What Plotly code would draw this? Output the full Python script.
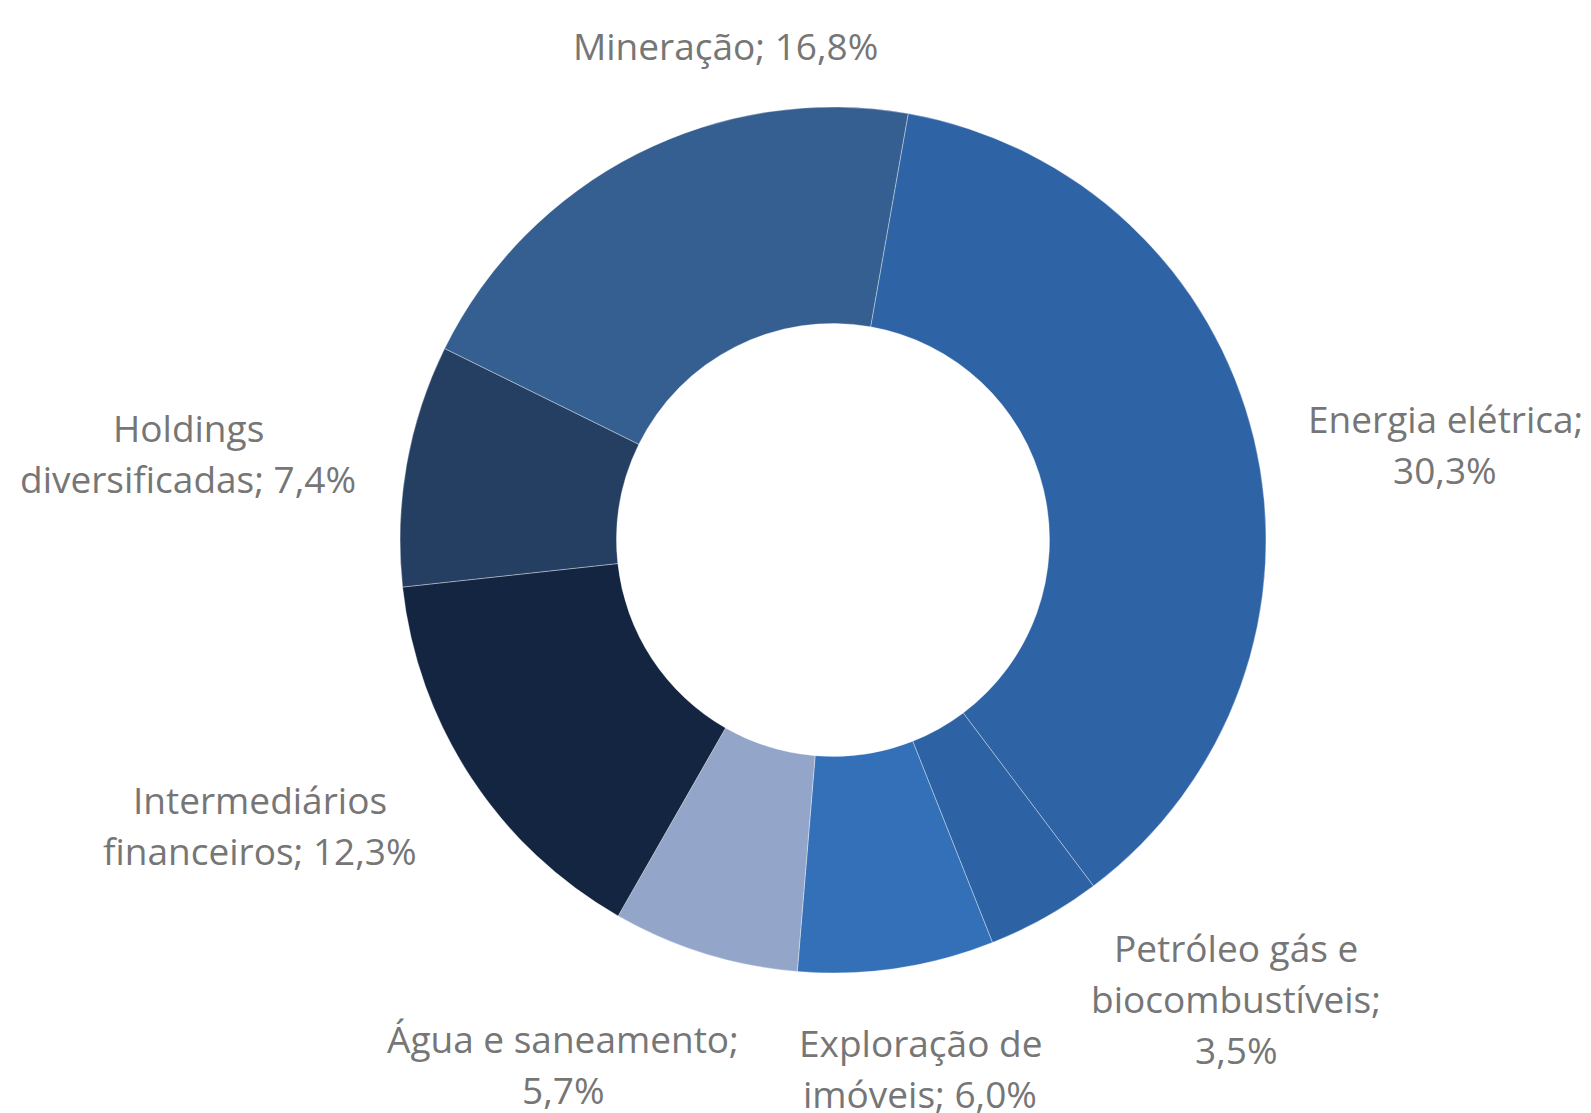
import plotly.graph_objects as go

W, H = 1591, 1113

# ---- data ----
categories = [
    "Energia elétrica",
    "Petróleo gás e biocombustíveis",
    "Exploração de imóveis",
    "Água e saneamento",
    "Intermediários financeiros",
    "Holdings diversificadas",
    "Mineração",
]
values = [30.3, 3.5, 6.0, 5.7, 12.3, 7.4, 16.8]
# label wrapping as shown in the chart ({v} = formatted value)
label_templates = [
    "Energia elétrica;\n{v}",
    "Petróleo gás e\nbiocombustíveis;\n{v}",
    "Exploração de\nimóveis; {v}",
    "Água e saneamento;\n{v}",
    "Intermediários\nfinanceiros; {v}",
    "Holdings\ndiversificadas; {v}",
    "Mineração; {v}",
]

# ---- styles ----
colors = ["#2E63A5", "#2D62A5", "#3470B8", "#93A6CA", "#132541", "#253F63", "#365F91"]
OFF = 8  # page body margin offset
# label block centres in pixels (x, y from top) as seen on the page
label_pos = [(1445, 444), (1236, 998), (920, 1068), (563, 1064),
             (260, 825), (188, 453), (725, 45)]
LINE_GAP = 51
FONT = dict(family="'Open Sans', Lato, sans-serif", size=37, color="#767676")

cx, cy, R = 833 - OFF, 540 - OFF, 433

fig = go.Figure(go.Pie(
    labels=categories,
    values=values,
    hole=0.5,
    sort=False,
    direction="clockwise",
    rotation=10,
    textinfo="none",
    marker=dict(colors=colors, line=dict(color="rgba(255,255,255,0.35)", width=1)),
    domain=dict(x=[(cx - R) / W, (cx + R) / W], y=[(H - cy - R) / H, (H - cy + R) / H]),
    showlegend=False,
))

annotations = []
for tpl, v, (px, py) in zip(label_templates, values, label_pos):
    vs = f"{v:.1f}".replace(".", ",") + "%"
    lines = tpl.format(v=vs).split("\n")
    n = len(lines)
    for i, line in enumerate(lines):
        y = py - OFF + (i - (n - 1) / 2) * LINE_GAP
        annotations.append(dict(
            x=(px - OFF) / W, y=1 - y / H, xref="paper", yref="paper",
            text=line, showarrow=False, xanchor="center", yanchor="middle",
            font=FONT,
        ))

fig.update_layout(
    width=W, height=H,
    margin=dict(l=0, r=0, t=0, b=0),
    paper_bgcolor="white", plot_bgcolor="white",
    annotations=annotations,
)

fig.write_html("out.html")
